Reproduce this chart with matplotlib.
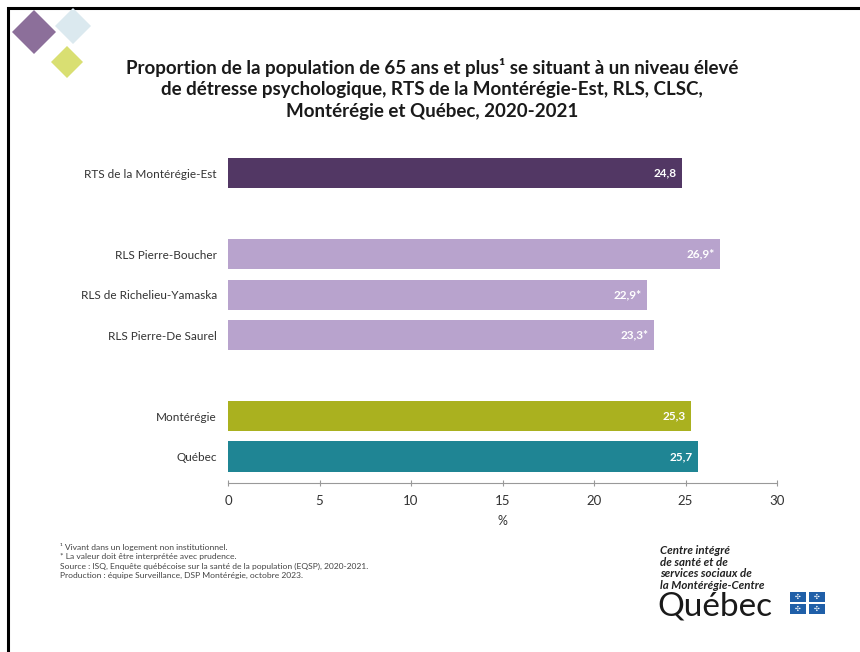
import numpy as np
import matplotlib.pyplot as plt
from matplotlib.patches import Rectangle, Polygon

plt.rcParams['font.family'] = ['Lato', 'DejaVu Sans']

categories = ["RTS de la Montérégie-Est", "RLS Pierre-Boucher", "RLS de Richelieu-Yamaska",
              "RLS Pierre-De Saurel", "Montérégie", "Québec"]
values = [24.8, 26.9, 22.9, 23.3, 25.3, 25.7]
labels = ["24,8", "26,9*", "22,9*", "23,3*", "25,3", "25,7"]
slots = [0, 2, 3, 4, 6, 7]
colors = ["#523764", "#b8a3cd", "#b8a3cd", "#b8a3cd", "#aab11f", "#1f8594"]

fig = plt.figure(figsize=(8.6, 6.52), dpi=100)
W, H = 860, 652

def fx(px):
    return px / W

def fy(py):
    return 1 - py / H

# frame (left and top edges visible)
fig.add_artist(Rectangle((fx(8), -0.1), 1.2, fy(8) + 0.1, transform=fig.transFigure,
                         fill=False, edgecolor='black', linewidth=2.2))

# decorative diamonds
def diamond(cx, cy, r, color, alpha=1.0):
    pts = [(fx(cx), fy(cy - r)), (fx(cx + r), fy(cy)), (fx(cx), fy(cy + r)), (fx(cx - r), fy(cy))]
    fig.add_artist(Polygon(pts, closed=True, transform=fig.transFigure,
                           facecolor=color, edgecolor='none', alpha=alpha))

diamond(73, 26, 18, "#dbe9ef")
diamond(34, 32, 22, "#8c6f9a")
diamond(67, 62, 16, "#d9df72")

title = ("Proportion de la population de 65 ans et plus¹ se situant à un niveau élevé\n"
         "de détresse psychologique, RTS de la Montérégie-Est, RLS, CLSC,\n"
         "Montérégie et Québec, 2020-2021")
fig.text(fx(432), fy(89), title, ha='center', va='center', fontsize=13.5,
         fontweight='bold', color='#1a1a1a', linespacing=1.3)

ax = fig.add_axes([fx(228), fy(483), fx(777) - fx(228), fy(153) - fy(483)])
ax.barh(slots, values, height=0.75, color=colors)
for s, v, lab in zip(slots, values, labels):
    ax.text(v - 0.3, s, lab, ha='right', va='center', color='white',
            fontsize=8.5, fontweight='bold')

ax.set_xlim(0, 30)
ax.set_ylim(7.65, -0.5)
ax.set_xticks(np.arange(0, 31, 5))
ax.set_yticks(slots)
ax.set_yticklabels(categories, fontsize=8.5, color='#333333')
ax.tick_params(axis='y', length=0, pad=8)
ax.tick_params(axis='x', direction='inout', length=5, color='#999999',
               labelsize=9.5, labelcolor='#333333', pad=6)
for side in ['top', 'right', 'left']:
    ax.spines[side].set_visible(False)
ax.spines['bottom'].set_color('#999999')
ax.set_xlabel('%', fontsize=9, color='#333333', labelpad=6)

notes = ["¹ Vivant dans un logement non institutionnel.",
         "* La valeur doit être interprétée avec prudence.",
         "Source : ISQ, Enquête québécoise sur la santé de la population (EQSP), 2020-2021.",
         "Production : équipe Surveillance, DSP Montérégie, octobre 2023."]
for i, n in enumerate(notes):
    fig.text(fx(60), fy(547 + i * 9.5), n, ha='left', va='center', fontsize=6.1, color='#444444')

fig.text(fx(660), fy(568), "Centre intégré\nde santé et de\nservices sociaux de\nla Montérégie-Centre",
         ha='left', va='center', fontsize=8.3, fontweight='bold', fontstyle='italic',
         color='#222222', linespacing=1.05)
fig.text(fx(657), fy(606), "Québec", ha='left', va='center', fontsize=24, color='#1a1a1a')
for cx in (798, 817):
    for cy in (597, 609):
        fig.add_artist(Rectangle((fx(cx - 8), fy(cy + 5)), fx(16), 10 / H,
                                 transform=fig.transFigure, facecolor='#1f5fa8', edgecolor='none'))
        fig.text(fx(cx), fy(cy), "✣", ha='center', va='center', fontsize=5, color='white',
                 family=['DejaVu Sans'])

fig.savefig("out.png", dpi=100)
